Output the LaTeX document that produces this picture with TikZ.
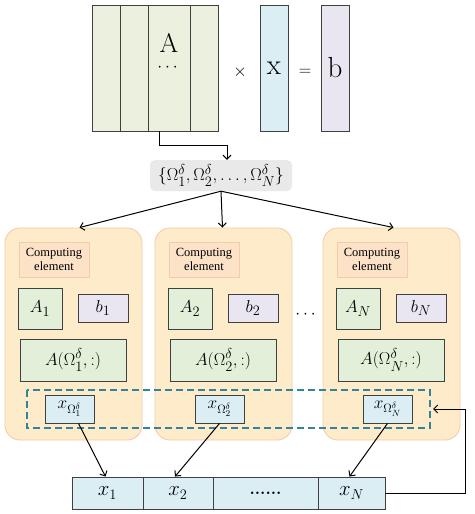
\documentclass[tikz,border=0pt]{standalone}
\usepackage{amsmath}
\usepackage{fontspec}
\newfontfamily\timesfont{Liberation Serif}
\usetikzlibrary{arrows.meta}

\definecolor{matgreen}{HTML}{EBF1DE}
\definecolor{subgreen}{HTML}{E2EFD9}
\definecolor{veclav}{HTML}{E9E6F1}
\definecolor{vecblue}{HTML}{DAEEF3}
\definecolor{pefill}{HTML}{FDEBCA}
\definecolor{pedraw}{HTML}{F6CBAB}
\definecolor{cefill}{HTML}{FCE2C6}
\definecolor{boxgray}{HTML}{404040}
\definecolor{syncteal}{HTML}{31849B}

\tikzset{
  box/.style={draw=boxgray, line width=0.9pt, inner sep=0pt},
  colbox/.style={box, fill=matgreen, minimum height=126pt},
  vecbox/.style={box, minimum width=28pt, minimum height=126pt, font=\fontsize{29}{32}\selectfont},
  pebox/.style={draw=pedraw, line width=0.9pt, fill=pefill, rounded corners=15pt,
    minimum width=137pt, minimum height=212pt},
  cebox/.style={draw=pedraw, line width=0.9pt, fill=cefill, minimum width=70pt, minimum height=35pt,
    align=center, inner sep=0pt, font=\timesfont\fontsize{12.5}{14}\selectfont},
  mathfont/.style={font=\fontsize{19}{22}\selectfont},
  cellbox/.style={box, fill=vecblue, minimum height=32pt, font=\fontsize{22}{26}\selectfont},
  arr/.style={line width=1pt, -{Straight Barb[length=4pt,width=8pt]}}
}

\begin{document}
\begin{tikzpicture}[x=1pt,y=-1pt]
\useasboundingbox (0,0) rectangle (474,514);

\node[colbox, minimum width=28pt] (colA1) at (106,68) {};
\node[colbox, minimum width=28pt] (colA2) at (134,68) {};
\node[colbox, minimum width=42pt] (colA3) at (169,68) {};
\node[colbox, minimum width=28pt] (colA4) at (204,68) {};
\node[font=\fontsize{27}{30}\selectfont] (Alabel) at (169,43) {A};
\node[font=\fontsize{16}{18}\selectfont] (Adots) at (169,68) {$\cdots$};
\node[font=\fontsize{18}{20}\selectfont] (times) at (240,72) {$\times$};
\node[vecbox, fill=vecblue] (vecx) at (274,68) {x};
\node[font=\fontsize{18}{20}\selectfont] (equals) at (305,72) {$=$};
\node[vecbox, fill=veclav] (vecb) at (335,68) {b};

\node[fill=gray!17, rounded corners=5pt, minimum width=142pt, minimum height=31pt, inner sep=0pt,
  font=\fontsize{19}{22}\selectfont] (omega) at (221,175.5)
  {$\{\Omega_1^\delta,\Omega_2^\delta,\ldots,\Omega_N^\delta\}$};

\draw[arr] ([xshift=-10pt]colA3.south) -- ++(0,14) -| ([xshift=6pt]omega.north);

\foreach \i/\px in {1/5,2/155,3/323}
  \node[pebox] (pe\i) at (\px+68.5,334) {};

\draw[syncteal, line width=1.2pt, dash pattern=on 7pt off 4pt] (27,390) rectangle (430,428);
\coordinate (sync) at (430,409);

\foreach \i/\px/\s in {1/5/1,2/155/2,3/323/N}{
  \node[cebox] (ce\i) at (\px+49,259.5) {Computing\\element};
  \node[box, fill=subgreen, minimum width=44pt, minimum height=41pt, mathfont]
    (a\i) at (\px+35,308.5) {$A_{\s}$};
  \node[box, fill=veclav, minimum width=50pt, minimum height=28pt, mathfont]
    (b\i) at (\px+98,308) {$b_{\s}$};
  \node[box, fill=subgreen, minimum width=106pt, minimum height=42pt, mathfont]
    (ao\i) at (\px+68,360) {$A(\Omega_{\s}^\delta,:)$};
  \node[box, fill=vecblue, minimum width=49pt, minimum height=28pt, font=\fontsize{18}{20}\selectfont]
    (xo\i) at (\px+64.5,409) {$x_{\Omega_{\s}^\delta}$};
}
\node[font=\fontsize{18}{20}\selectfont] (pedots) at (307,315) {$\cdots$};

\draw[arr] (omega.south) -- ([xshift=6pt]pe1.north);
\draw[arr] (omega.south) -- ([xshift=-1pt]pe2.north);
\draw[arr] (omega.south) -- ([xshift=2pt]pe3.north);

\node[cellbox, minimum width=71pt] (x1) at (107.5,493) {$x_1$};
\node[cellbox, minimum width=70pt] (x2) at (178,493) {$x_2$};
\node[cellbox, minimum width=105pt, font=\fontsize{17}{20}\selectfont\bfseries] (xdots) at (265.5,493) {......};
\node[cellbox, minimum width=67pt] (xN) at (351.5,493) {$x_N$};

\draw[arr] ([xshift=9pt]xo1.south) -- ([xshift=-2pt]x1.north);
\draw[arr] (xo2.south) -- ([xshift=-3pt]x2.north);
\draw[arr] (xo3.south) -- ([xshift=-2pt]xN.north);
\draw[arr] (xN.east) -- ++(80,0) |- ([xshift=3pt]sync);
\end{tikzpicture}
\end{document}
